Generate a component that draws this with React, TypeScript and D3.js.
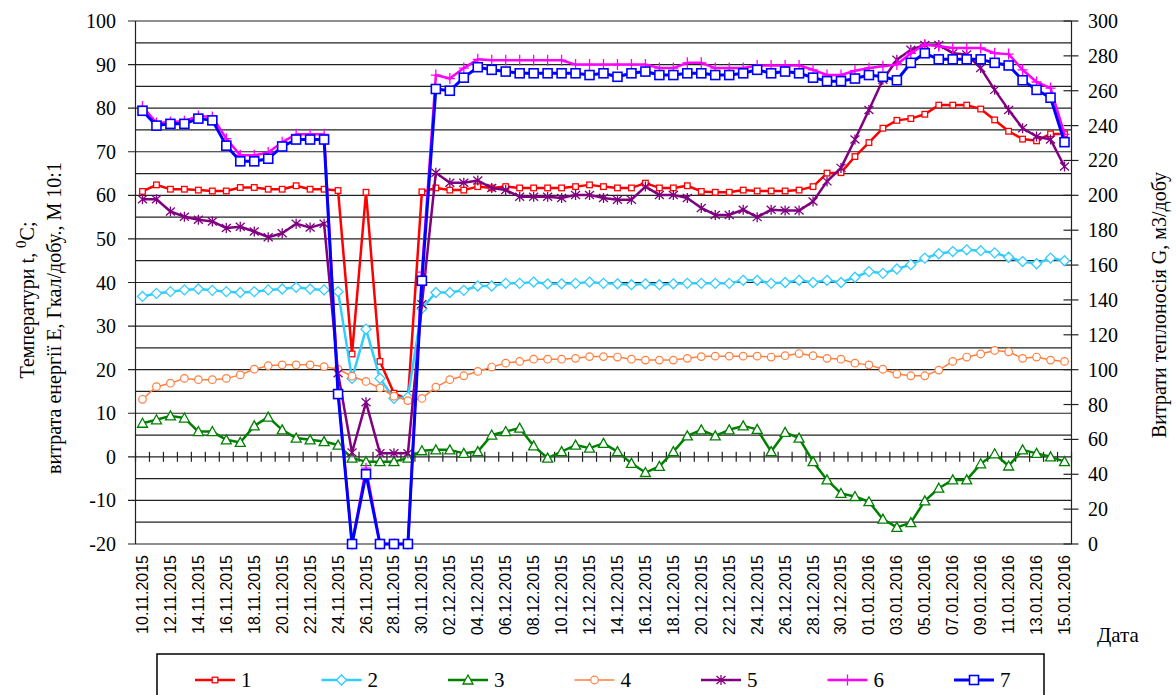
import * as d3 from "d3";

// дати: 10.11.2015 .. 15.01.2016, щодня
const startDate = new Date(2015, 10, 10);
const endDate = new Date(2016, 0, 16);
const dates = d3.timeDay.range(startDate, endDate).map(d3.timeFormat("%d.%m.%Y"));

// ліва вісь: температури, енергія (М 10:1)
const s1 = [60.9, 62.4, 61.4, 61.4, 61.2, 61.0, 61.0, 61.8, 61.8, 61.4, 61.4, 62.2, 61.4, 61.4, 61.1,
  23.6, 60.7, 21.9, 14.6, 13.1, 60.8,
  61.7, 61.2, 61.2, 62.0, 61.7, 62.0, 61.7, 61.7, 61.7, 61.7, 62.0, 62.4, 62.0, 61.7, 61.7, 62.8, 61.7, 61.7, 62.2, 60.9, 60.7, 60.7, 61.2, 61.0, 61.0, 61.0, 61.2,
  62.0, 65.1, 65.2, 68.9, 72.1, 75.4, 77.2, 77.6, 78.6, 80.7, 80.7, 80.7, 79.8, 77.3, 74.7, 72.9, 72.5, 74.1, 74.1];
const s2 = [36.8, 37.5, 37.9, 38.3, 38.5, 38.2, 37.9, 37.7, 37.9, 38.3, 38.5, 38.9, 38.5, 38.3, 37.9,
  18.0, 29.3, 18.0, 13.4, 13.7, 34.0,
  37.7, 37.7, 38.2, 39.2, 39.2, 39.8, 39.8, 40.1, 39.7, 39.7, 39.8, 40.1, 39.8, 39.7, 39.5, 39.7, 39.5, 39.7, 39.8, 39.8, 39.8, 39.8, 40.5, 40.5, 39.8, 40.0, 40.5,
  40.0, 40.5, 40.0, 41.2, 42.5, 42.1, 43.1, 44.1, 45.6, 46.6, 47.1, 47.5, 47.3, 46.8, 45.8, 44.8, 44.3, 45.6, 45.0];
const s3 = [7.7, 8.5, 9.4, 8.9, 5.8, 5.8, 3.9, 3.3, 7.1, 9.1, 6.2, 4.3, 3.9, 3.5, 2.7,
  -0.3, -1.1, -1.1, -1.1, -0.3, 1.4,
  1.6, 1.6, 0.8, 1.2, 5.0, 5.8, 6.6, 2.5, -0.3, 1.2, 2.7, 2.0, 3.1, 1.2, -1.5, -3.6, -2.2, 1.2, 4.8, 6.2, 4.8, 6.2, 7.1, 6.3, 1.2, 5.6, 4.3,
  -1.1, -5.3, -8.4, -9.1, -10.3, -14.3, -16.2, -15.1, -10.1, -7.2, -5.3, -5.3, -1.6, 0.7, -2.1, 1.6, 0.8, 0, -1.1];
const s4 = [13.2, 16.1, 16.9, 18.0, 17.7, 17.7, 18.0, 18.8, 20.1, 20.9, 21.1, 21.1, 21.1, 20.7, 20.1,
  18.5, 17.3, 15.8, 13.9, 12.9, 13.4,
  16.0, 17.7, 18.6, 19.6, 20.6, 21.5, 21.9, 22.4, 22.4, 22.4, 22.6, 23.0, 23.0, 22.9, 22.4, 22.2, 22.2, 22.2, 22.6, 23.0, 23.1, 23.1, 23.1, 23.1, 22.9, 23.2, 23.7,
  23.2, 22.6, 22.4, 21.5, 21.1, 20.1, 19.0, 18.6, 18.6, 19.9, 21.9, 22.9, 23.6, 24.4, 24.1, 22.6, 22.9, 22.2, 21.9];
const s5 = [59.1, 59.1, 56.3, 55.1, 54.4, 54.0, 52.5, 52.8, 51.7, 50.4, 51.3, 53.5, 52.6, 53.5, 19.2,
  1.0, 12.5, 0.8, 0.8, 0.8, 35.0,
  65.2, 62.9, 62.9, 63.4, 61.7, 61.2, 59.7, 59.7, 59.7, 59.4, 60.1, 60.1, 59.4, 59.0, 59.0, 62.0, 60.1, 60.1, 59.4, 57.1, 55.5, 55.5, 56.7, 55.0, 56.7, 56.5, 56.5,
  58.6, 63.2, 66.3, 72.8, 79.6, 86.5, 91.1, 93.4, 94.5, 94.5, 92.6, 92.3, 89.2, 84.2, 79.6, 75.4, 73.5, 72.8, 66.6];

// права вісь: витрати теплоносія, м3/добу
const s6 = [251, 241.5, 242, 242.5, 245.5, 245, 232.5, 223, 223, 224.5, 230.5, 235, 235, 235, 88,
  0, 43.5, 0, 0, 0, 156,
  269, 267, 273, 278, 277.5, 277.5, 277.5, 277.5, 277.5, 277.5, 275, 275, 275, 275, 275, 275, 273, 273, 276, 276, 273, 273, 273, 274.5, 274.5, 274.5, 274.5,
  272, 269, 269, 271.5, 273, 274, 275, 281.5, 286.5, 285.5, 284.5, 284.5, 284.5, 281.5, 281, 272, 265, 261.5, 235];
const s7 = [248.5, 240, 241, 241, 244, 243, 228.5, 219.5, 219.5, 221, 228, 232, 232, 232, 86,
  0, 40, 0, 0, 0, 151,
  261, 260, 267.5, 273.5, 272, 271, 270, 270, 270, 270, 270, 269, 270, 268, 270, 271, 269, 269, 270, 270, 269, 269, 270, 272, 270, 271, 270,
  267.5, 265.5, 265.5, 267, 269, 268, 266, 276, 281.5, 278, 278, 278, 278, 276, 274.5, 266, 260.5, 256, 230.5];

const leftTicks = [-20, -10, 0, 10, 20, 30, 40, 50, 60, 70, 80, 90, 100];
const rightTicks = [0, 20, 40, 60, 80, 100, 120, 140, 160, 180, 200, 220, 240, 260, 280, 300];
const gridValues = d3.range(-15, 101, 5);

type Marker = "square" | "smallSquare" | "diamond" | "triangle" | "circle" | "star" | "plus";

const series = [
  { name: "1", values: s1, axis: "L", color: "#ff0000", marker: "smallSquare" as Marker, width: 2.5 },
  { name: "2", values: s2, axis: "L", color: "#33ccff", marker: "diamond" as Marker, width: 2.5 },
  { name: "3", values: s3, axis: "L", color: "#008000", marker: "triangle" as Marker, width: 2.5 },
  { name: "4", values: s4, axis: "L", color: "#ff7f3f", marker: "circle" as Marker, width: 1.5 },
  { name: "5", values: s5, axis: "L", color: "#800080", marker: "star" as Marker, width: 2.5 },
  { name: "6", values: s6, axis: "R", color: "#ff00ff", marker: "plus" as Marker, width: 2.5 },
  { name: "7", values: s7, axis: "R", color: "#0000ff", marker: "square" as Marker, width: 3 },
];

const W = 1176;
const H = 695;
const left = 135.5;
const right = 1071.5;
const top = 21;
const bottom = 544;

const serif = "'Liberation Serif', 'Times New Roman', serif";
const sans = "'Liberation Sans', Arial, sans-serif";

function MarkerShape({ type, x, y, color }: { type: Marker; x: number; y: number; color: string }) {
  switch (type) {
    case "square":
      return <rect x={x - 4.5} y={y - 4.5} width={9} height={9} fill="#fff" stroke={color} strokeWidth={1.6} />;
    case "smallSquare":
      return <rect x={x - 2.8} y={y - 2.8} width={5.6} height={5.6} fill="#fff" stroke={color} strokeWidth={1.3} />;
    case "diamond":
      return <path d={`M${x},${y - 5}L${x + 5},${y}L${x},${y + 5}L${x - 5},${y}Z`} fill="#fff" stroke={color} strokeWidth={1.3} />;
    case "triangle":
      return <path d={`M${x},${y - 5}L${x + 5},${y + 4}L${x - 5},${y + 4}Z`} fill="#fff" stroke={color} strokeWidth={1.3} />;
    case "circle":
      return <circle cx={x} cy={y} r={3.8} fill="#fff" stroke={color} strokeWidth={1.2} />;
    case "star":
      return (
        <path
          d={`M${x},${y - 5}V${y + 5}M${x - 4.5},${y - 4}L${x + 4.5},${y + 4}M${x - 4.5},${y + 4}L${x + 4.5},${y - 4}`}
          stroke={color}
          strokeWidth={1.3}
        />
      );
    case "plus":
      return <path d={`M${x},${y - 5.5}V${y + 5.5}M${x - 5},${y}H${x + 5}`} stroke={color} strokeWidth={1.3} />;
  }
}

export default function App() {
  const x = d3.scaleBand<string>().domain(dates).range([left, right]);
  const cx = (d: string) => (x(d) ?? 0) + x.bandwidth() / 2;
  const yL = d3.scaleLinear().domain([-20, 100]).range([bottom, top]);
  const yR = d3.scaleLinear().domain([0, 300]).range([bottom, top]);
  const y0 = yL(0);

  return (
    <svg width={W} height={H} style={{ position: "absolute", left: 0, top: 0, background: "#fff" }}>
      {/* сітка */}
      {gridValues.map((v) => (
        <line key={v} x1={v % 10 === 0 ? 128 : left} x2={right} y1={yL(v)} y2={yL(v)} stroke="#222" strokeWidth={1.2} />
      ))}
      <line x1={128} x2={right} y1={bottom} y2={bottom} stroke="#222" strokeWidth={1.2} />
      <line x1={left} x2={left} y1={top} y2={bottom} stroke="#222" strokeWidth={1.2} />
      <line x1={right} x2={right} y1={top} y2={bottom} stroke="#222" strokeWidth={1.2} />

      {/* вісь категорій на нулі */}
      {dates.map((d, i) => (
        <line key={d} x1={(x(d) ?? 0) + (i === 0 ? 0 : 0)} x2={x(d) ?? 0} y1={y0 - 5} y2={y0 + 5} stroke="#222" strokeWidth={1.2} />
      ))}
      <line x1={right} x2={right} y1={y0 - 5} y2={y0 + 5} stroke="#222" strokeWidth={1.2} />

      {/* ліві підписи */}
      {leftTicks.map((v) => (
        <text key={v} x={116} y={yL(v)} dy="0.35em" textAnchor="end" fontFamily={serif} fontSize={20} fill="#000">
          {v}
        </text>
      ))}
      {/* праві позначки */}
      {rightTicks.map((v) => (
        <g key={v}>
          <line x1={right - 8} x2={right + 7} y1={yR(v)} y2={yR(v)} stroke="#222" strokeWidth={1.2} />
          <text x={1088} y={yR(v)} dy="0.35em" textAnchor="start" fontFamily={serif} fontSize={20} fill="#000">
            {v}
          </text>
        </g>
      ))}

      {/* підписи дат */}
      {dates.map((d, i) =>
        i % 2 === 0 ? (
          <text
            key={d}
            transform={`translate(${cx(d) + 5.5},555) rotate(-90)`}
            textAnchor="end"
            fontFamily={sans}
            fontSize={16}
            fill="#000"
          >
            {d}
          </text>
        ) : null
      )}

      {/* ряди */}
      {series.map((s) => {
        const y = s.axis === "L" ? yL : yR;
        const line = d3
          .line<number>()
          .x((_, i) => cx(dates[i]))
          .y((v) => y(v));
        return (
          <g key={s.name}>
            <path d={line(s.values) ?? ""} fill="none" stroke={s.color} strokeWidth={s.width} strokeLinejoin="round" />
            {s.values.map((v, i) => (
              <MarkerShape key={i} type={s.marker} x={cx(dates[i])} y={y(v)} color={s.color} />
            ))}
          </g>
        );
      })}

      {/* назви осей */}
      <text transform="translate(34,300) rotate(-90)" textAnchor="middle" fontFamily={serif} fontSize={20} fill="#000">
        Температури t, <tspan dy={-8} fontSize={15}>0</tspan>
        <tspan dy={8}>С;</tspan>
      </text>
      <text transform="translate(61,318) rotate(-90)" textAnchor="middle" fontFamily={serif} fontSize={20} fill="#000">
        витрата енергії Е, Гкал/добу., М 10:1
      </text>
      <text transform="translate(1166,305) rotate(-90)" textAnchor="middle" fontFamily={serif} fontSize={20} fill="#000">
        Витрати теплоносія G, м3/добу
      </text>
      <text x={1097} y={642} fontFamily={serif} fontSize={21} fill="#000">
        Дата
      </text>

      {/* легенда */}
      <rect x={157} y={654} width={887} height={60} fill="#fff" stroke="#000" strokeWidth={1.5} />
      {series.map((s, k) => {
        const lx = 195 + 126.5 * k;
        return (
          <g key={s.name}>
            <line x1={lx} x2={lx + 40} y1={680} y2={680} stroke={s.color} strokeWidth={s.width} />
            <MarkerShape type={s.marker} x={lx + 20} y={680} color={s.color} />
            <text x={lx + 46} y={680} dy="0.35em" fontFamily={serif} fontSize={21} fill="#000">
              {s.name}
            </text>
          </g>
        );
      })}
    </svg>
  );
}
